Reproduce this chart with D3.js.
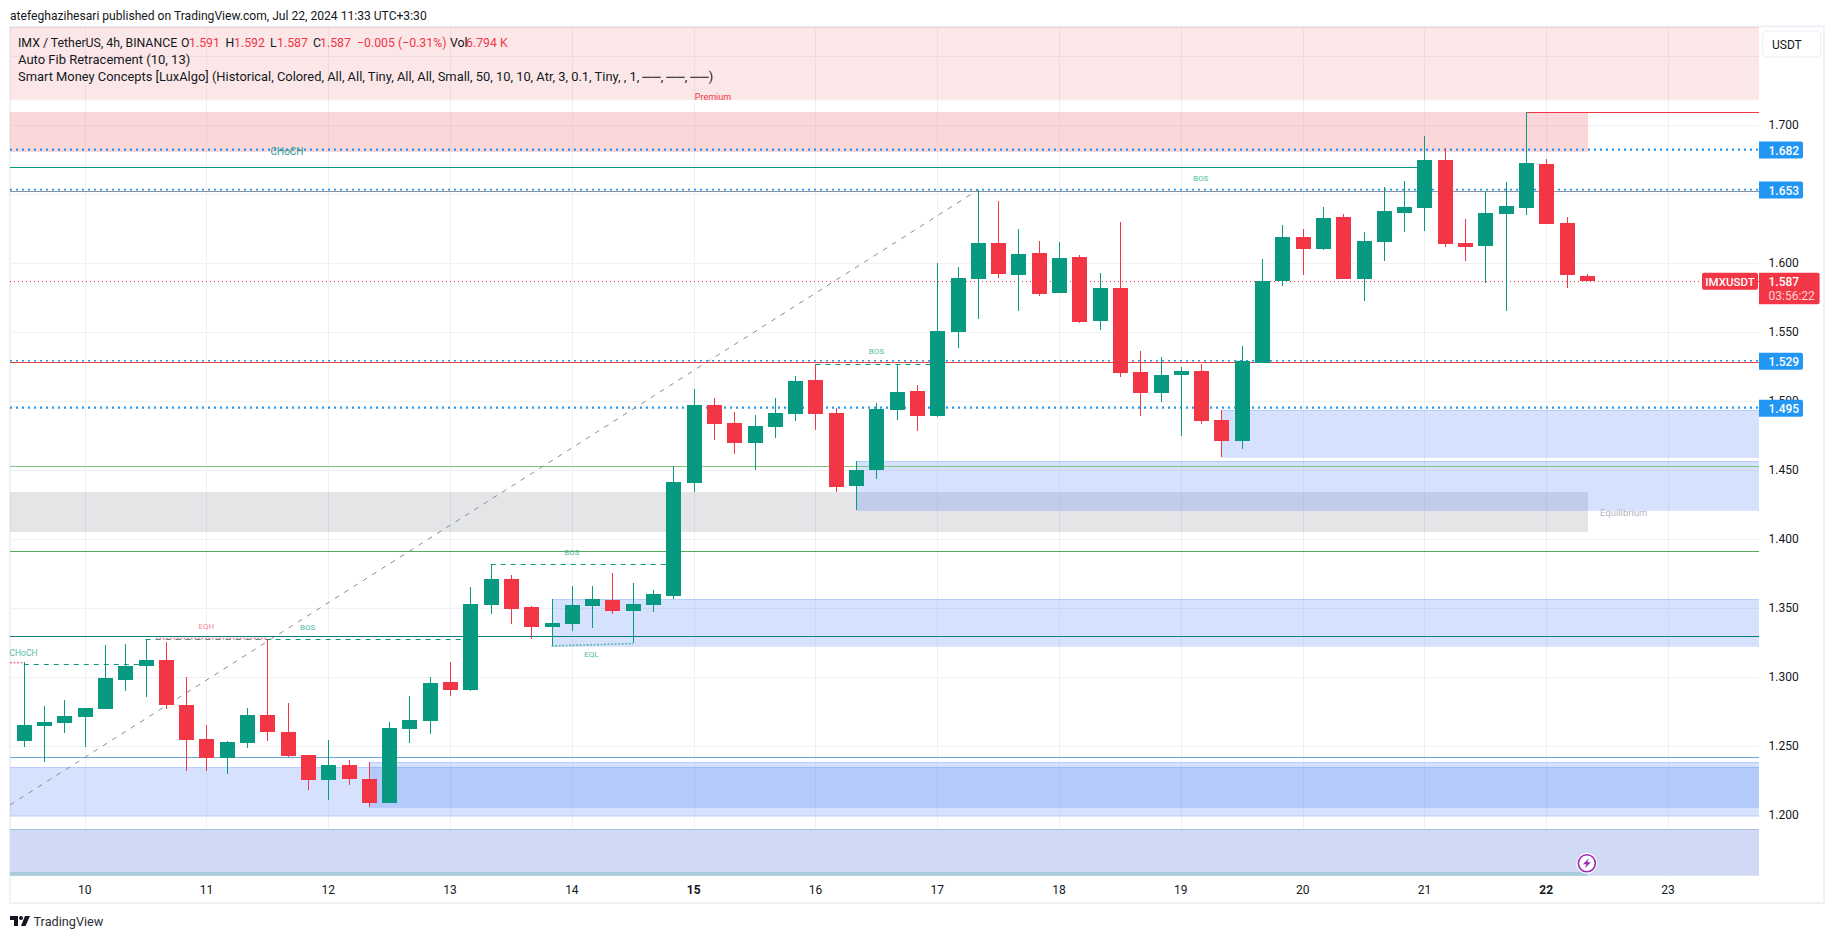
<!DOCTYPE html>
<html><head><meta charset="utf-8">
<script src="https://cdnjs.cloudflare.com/ajax/libs/d3/7.8.5/d3.min.js"></script>
<style>html,body{margin:0;padding:0;background:#fff}svg{display:block}text{font-family:Roboto,"Liberation Sans",sans-serif}</style>
</head><body><svg id="c" width="1835" height="939"></svg>
<script>
// Candle data: 4h bars, index 0 = first bar of day 10
const firstIndex = -3;
const opens = [
1.2538,1.2647,1.2669,1.2712,1.2770,1.2981,1.3082,1.3125,1.2799,1.2553,
1.2415,1.2524,1.2727,1.2604,1.2437,1.2256,1.2365,1.2263,1.2089,1.2625,
1.2683,1.2966,1.2908,1.3524,1.3712,1.3510,1.3365,1.3386,1.3517,1.3560,
1.3480,1.3524,1.3589,1.4408,1.4973,1.4843,1.4698,1.4814,1.4908,1.5154,
1.4915,1.4386,1.4502,1.4937,1.5074,1.4893,1.5502,1.5886,1.6147,1.5915,
1.6075,1.5785,1.6046,1.5582,1.5821,1.5212,1.5060,1.5190,1.5219,1.4864,
1.4712,1.5277,1.5872,1.6190,1.6104,1.6335,1.5886,1.6154,1.6364,1.6400,
1.6748,1.6147,1.6125,1.6357,1.6400,1.6719,1.6292,1.591];
const closes = [
1.2654,1.2676,1.2720,1.2778,1.2995,1.3082,1.3125,1.2799,1.2546,1.2415,
1.2531,1.2727,1.2604,1.2430,1.2256,1.2365,1.2263,1.2089,1.2633,1.2691,
1.2959,1.2908,1.3531,1.3712,1.3495,1.3365,1.3393,1.3524,1.3567,1.3480,
1.3531,1.3603,1.4415,1.4973,1.4835,1.4698,1.4821,1.4915,1.5147,1.4908,
1.4379,1.4502,1.4944,1.5067,1.4893,1.5509,1.5893,1.6147,1.5922,1.6067,
1.5777,1.6038,1.5575,1.5821,1.5205,1.5060,1.5190,1.5219,1.4857,1.4712,
1.5292,1.5872,1.6190,1.6104,1.6328,1.5886,1.6162,1.6379,1.6408,1.6748,
1.6140,1.6118,1.6364,1.6415,1.6727,1.6284,1.5915,1.587];
const highs = [
1.3113,1.2792,1.2836,1.2778,1.3234,1.3241,1.3278,1.3256,1.3002,1.2654,
1.2539,1.2778,1.3278,1.2814,1.2437,1.2546,1.2401,1.2386,1.2676,1.2865,
1.3002,1.3111,1.3654,1.3819,1.3741,1.3517,1.3565,1.3662,1.3662,1.3756,
1.3683,1.3632,1.4531,1.5089,1.5024,1.4922,1.4900,1.5024,1.5183,1.5270,
1.4951,1.4567,1.4988,1.5263,1.5118,1.6002,1.5973,1.6531,1.6451,1.6248,
1.6161,1.6154,1.6060,1.5930,1.6299,1.5364,1.5321,1.5248,1.5270,1.4937,
1.5400,1.6031,1.6277,1.6248,1.6408,1.6357,1.6227,1.6553,1.6596,1.6922,
1.6835,1.6321,1.6524,1.6589,1.7094,1.6755,1.6335,1.592];
const lows = [
1.2495,1.2386,1.2596,1.2495,1.2770,1.2901,1.2857,1.2770,1.2321,1.2321,
1.2299,1.2488,1.2538,1.2423,1.2183,1.2111,1.2220,1.2060,1.2089,1.2524,
1.2589,1.2865,1.2901,1.3459,1.3386,1.3278,1.3227,1.3336,1.3357,1.3459,
1.3246,1.3473,1.3567,1.4343,1.4719,1.4618,1.4502,1.4734,1.4857,1.4792,
1.4343,1.4212,1.4437,1.4864,1.4785,1.4886,1.5386,1.5596,1.5893,1.5654,
1.5763,1.5785,1.5567,1.5517,1.5176,1.4893,1.4995,1.4748,1.4835,1.4596,
1.4654,1.5277,1.5835,1.5915,1.6096,1.5886,1.5727,1.6017,1.6226,1.6234,
1.6118,1.6016,1.5857,1.5654,1.6350,1.6284,1.5821,1.587];

const dayLabels = [10,11,12,13,14,15,16,17,18,19,20,21,22,23];
const dayIndex = [0,6,12,18,24,30,36,42,48,54,60,66,72,78];
const boldDays = [15,22];
const priceTicks = [1.2,1.25,1.3,1.35,1.4,1.45,1.5,1.55,1.6,1.65,1.7];
const minorGrid = [1.75];

// zones: [index from, index to, top price, bottom price]
const idxL = -3.68, idxR = 82.48, idxZ = 74.05;
const zonePremium = [[idxL,idxR,1.7712,1.7193]];
const zoneSupply = [[idxL,idxZ,1.7096,1.6809]];
const zoneEquil = [[idxL,idxZ,1.4345,1.4055]];
const zonesBlue = [[idxL,idxR,1.2348,1.1997],[14,idxR,1.2386,1.2062],[23,idxR,1.3565,1.3229],[38,idxR,1.4567,1.4212],[56,idxR,1.4937,1.4599]];
const zoneLow = [[idxL,idxR,1.1899,1.1562]];
const zoneStrip = [[idxL,74,1.1587,1.1562]];

// level lines: [from, to, price, colour]
const solidLines = [
 [idxL,idxR,1.6525,"#8a90a8"],[idxL,idxR,1.5285,"#e8413d"],[idxL,idxR,1.4529,"#7cc77c"],
 [idxL,idxR,1.3913,"#5aa75e"],[idxL,idxR,1.3297,"#0a7d80"],[idxL,idxR,1.2420,"#6aa9de"],
 [idxL,66,1.6696,"#089981"],[71,idxR,1.7094,"#f23645"]];
const dottedBlue = [[1.682,2.2],[1.653,1.6],[1.529,1.6],[1.495,2.4]];
const dashedTeal = [[-3,3,1.3094],[3,19,1.3275],[20,28.7,1.3819],[36,42,1.5268]];
const dashedStems = [[3,1.3275,1.3125],[20,1.3819,1.3712],[36,1.5268,1.5154]];
const dottedRed = [[-3.68,-3,1.3106,1.3106],[3.5,9,1.3280,1.3280]];
const dottedEql = [[23,27,1.3227,1.3244]];
const fibLine = [[-3.68,1.2075],[44,1.6531]];
const tags = [[1.682,"1.682"],[1.653,"1.653"],[1.529,"1.529"],[1.495,"1.495"]];
const lastPrice = 1.587;

const smallLabels = [
 ["CHoCH",23.5,652.7,"#52bba5",8.5],["BOS",307.6,627.3,"#52bba5",8],["EQH",206.4,626.3,"#f58a93",8],
 ["BOS",571.8,552.3,"#52bba5",8],["EQL",591.4,654.3,"#52bba5",8],["BOS",876.4,351.3,"#52bba5",8],
 ["CHoCH",287,151.7,"#1f9e88",10],["BOS",1200.7,178.3,"#52bba5",8]];

const UP="#089981", DOWN="#f23645", TXT="#131722", GRID="#f0f1f4";
const svg=d3.select("#c");
const plotL=10, plotR=1759, plotT=27, plotB=875.7;
const x=d3.scaleLinear().domain([idxL,idxR]).range([plotL,plotR]);
const y=d3.scaleLinear().domain([1.1562,1.7712]).range([plotB,plotT]);
const px=v=>Math.round(v)+.5;

// Frame
svg.append("rect").attr("x",10).attr("y",26.5).attr("width",1814).attr("height",876.5).attr("fill","#fff").attr("stroke","#f0f1f5").attr("stroke-width",2);
svg.append("defs").append("clipPath").attr("id","plot").append("rect").attr("x",plotL).attr("y",plotT).attr("width",plotR-plotL).attr("height",plotB-plotT);
const g=svg.append("g").attr("clip-path","url(#plot)");

// Grid
g.selectAll(".gh").data(priceTicks.concat(minorGrid)).join("line").attr("x1",plotL).attr("x2",plotR)
 .attr("y1",d=>px(y(d))).attr("y2",d=>px(y(d))).attr("stroke",GRID);
g.selectAll(".gv").data(dayIndex).join("line").attr("y1",plotT).attr("y2",plotB)
 .attr("x1",d=>px(x(d))).attr("x2",d=>px(x(d))).attr("stroke",GRID);

function zones(data,fill,stroke){
 const s=g.append("g");
 s.selectAll("rect").data(data).join("rect").attr("x",d=>x(d[0])).attr("width",d=>x(d[1])-x(d[0]))
  .attr("y",d=>y(d[2])).attr("height",d=>y(d[3])-y(d[2])).attr("fill",fill).attr("shape-rendering","crispEdges");
 if(stroke){
  s.selectAll(".t").data(data).join("line").attr("x1",d=>x(d[0])).attr("x2",d=>x(d[1])).attr("y1",d=>px(y(d[2]))).attr("y2",d=>px(y(d[2]))).attr("stroke",stroke);
  s.selectAll(".b").data(data).join("line").attr("x1",d=>x(d[0])).attr("x2",d=>x(d[1])).attr("y1",d=>px(y(d[3]))).attr("y2",d=>px(y(d[3]))).attr("stroke",stroke);
 }
}
zones(zonePremium,"rgba(235,60,70,0.125)","rgba(242,54,69,0.1)");
zones(zoneSupply,"rgba(242,54,69,0.2)",null);
zones(zoneEquil,"rgba(120,123,134,0.2)",null);
zones(zonesBlue,"rgba(33,100,243,0.185)","rgba(33,100,243,0.16)");
zones(zoneLow,"#d0daf4",null);
g.append("line").attr("x1",plotL).attr("x2",plotR).attr("y1",px(y(zoneLow[0][2]))).attr("y2",px(y(zoneLow[0][2]))).attr("stroke","#a9bcea");
zones(zoneStrip,"#a9ccdc",null);

// Levels
g.selectAll(".lv").data(solidLines).join("line").attr("x1",d=>x(d[0])).attr("x2",d=>x(d[1]))
 .attr("y1",d=>px(y(d[2]))).attr("y2",d=>px(y(d[2]))).attr("stroke",d=>d[3]).attr("stroke-width",1);
g.selectAll(".db").data(dottedBlue).join("line").attr("x1",plotL).attr("x2",plotR)
 .attr("y1",d=>y(d[0])-.5).attr("y2",d=>y(d[0])-.5).attr("stroke","#2196f3").attr("stroke-width",d=>d[1]).attr("stroke-dasharray","2 4");
g.append("line").attr("x1",plotL).attr("x2",x(idxR)).attr("y1",px(y(lastPrice))).attr("y2",px(y(lastPrice))).attr("stroke","#f23645").attr("stroke-dasharray","1 3");
g.append("line").attr("x1",x(fibLine[0][0])).attr("y1",y(fibLine[0][1])).attr("x2",x(fibLine[1][0])).attr("y2",y(fibLine[1][1])).attr("stroke","#8a8d96").attr("stroke-dasharray","5 6");
g.selectAll(".dt").data(dashedTeal).join("line").attr("x1",d=>x(d[0])).attr("x2",d=>x(d[1])).attr("y1",d=>px(y(d[2]))).attr("y2",d=>px(y(d[2]))).attr("stroke",UP).attr("stroke-width",1).attr("stroke-dasharray","5 5");
g.selectAll(".ds").data(dashedStems).join("line").attr("x1",d=>px(x(d[0]))).attr("x2",d=>px(x(d[0]))).attr("y1",d=>y(d[1])).attr("y2",d=>y(d[2])).attr("stroke",UP);
g.selectAll(".dr").data(dottedRed).join("line").attr("x1",d=>x(d[0])).attr("x2",d=>x(d[1])).attr("y1",d=>y(d[2])).attr("y2",d=>y(d[3])).attr("stroke","#f58a93").attr("stroke-width",1.6).attr("stroke-dasharray","2 1.5");
g.selectAll(".de").data(dottedEql).join("line").attr("x1",d=>x(d[0])).attr("x2",d=>x(d[1])).attr("y1",d=>y(d[2])).attr("y2",d=>y(d[3])).attr("stroke","#5bb7b5").attr("stroke-width",1.6).attr("stroke-dasharray","2 1.5");

// Candles
const bars=closes.map((c,i)=>({i:i+firstIndex,o:opens[i],h:highs[i],l:lows[i],c}));
const cg=g.append("g").attr("shape-rendering","crispEdges");
cg.selectAll(".w").data(bars).join("line").attr("x1",d=>px(x(d.i))).attr("x2",d=>px(x(d.i)))
 .attr("y1",d=>y(d.h)).attr("y2",d=>y(d.l)).attr("stroke",d=>d.c>=d.o?UP:DOWN).attr("stroke-width",1);
cg.selectAll(".b").data(bars).join("rect").attr("x",d=>Math.round(x(d.i))-7).attr("width",15)
 .attr("y",d=>y(Math.max(d.o,d.c))).attr("height",d=>Math.max(1,Math.abs(y(d.o)-y(d.c)))).attr("fill",d=>d.c>=d.o?UP:DOWN);

// Small labels
svg.selectAll(".sl").data(smallLabels).join("text").attr("x",d=>d[1]).attr("y",d=>d[2]).attr("text-anchor","middle").attr("dominant-baseline","central")
 .attr("font-size",d=>d[4]).attr("fill",d=>d[3]).text(d=>d[0]);
svg.append("text").attr("x",713).attr("y",97).attr("text-anchor","middle").attr("dominant-baseline","central").attr("font-size",9).attr("fill","#f23645").text("Premium");
svg.append("text").attr("x",1600).attr("y",512).attr("dominant-baseline","central").attr("font-size",9.5).attr("fill","#b2b5be").text("Equilibrium");

// Y axis (tick under the 1.495 tag stays, as in the picture)
svg.selectAll(".yt").data(priceTicks).join("text").attr("x",1768.5).attr("y",d=>y(d)).attr("dominant-baseline","central").attr("font-size",12).attr("fill",TXT).text(d=>d3.format(".3f")(d));
// X axis
svg.selectAll(".xt").data(dayLabels).join("text").attr("x",(d,i)=>x(dayIndex[i])).attr("y",889.5).attr("text-anchor","middle").attr("dominant-baseline","central").attr("font-size",12)
 .attr("font-weight",d=>boldDays.includes(d)?700:400).attr("fill",TXT).text(d=>d);

// Price tags
svg.selectAll(".tg").data(tags).join("path").attr("d",d=>{const t=y(d[0])-8.5;return `M${plotR} ${t}H1801a2 2 0 0 1 2 2V${t+15}a2 2 0 0 1 -2 2H${plotR}Z`;}).attr("fill","#2196f3");
svg.selectAll(".tt").data(tags).join("text").attr("x",1768.5).attr("y",d=>y(d[0])+.5).attr("dominant-baseline","central").attr("font-size",12).attr("font-weight",500).attr("fill","#fff").text(d=>d[1]);
const ly=y(lastPrice);
svg.append("path").attr("d",`M${plotR} ${ly-8.5}H1817.6a2 2 0 0 1 2 2V${ly+21}a2 2 0 0 1 -2 2H${plotR}Z`).attr("fill","#f23645");
svg.append("text").attr("x",1768.5).attr("y",ly+.5).attr("dominant-baseline","central").attr("font-size",12).attr("font-weight",500).attr("fill","#fff").text("1.587");
svg.append("text").attr("x",1768.5).attr("y",ly+15).attr("dominant-baseline","central").attr("font-size",12).attr("fill","#fbd5d8").text("03:56:22");
svg.append("rect").attr("x",1702).attr("y",ly-8.5).attr("width",56).attr("height",17).attr("rx",2).attr("fill","#f23645");
svg.append("text").attr("x",1730).attr("y",ly+.5).attr("text-anchor","middle").attr("dominant-baseline","central").attr("font-size",11.5).attr("font-weight",500).attr("fill","#fff").text("IMXUSDT");

// USDT
svg.append("rect").attr("x",1762.5).attr("y",31).attr("width",58.5).attr("height",26).attr("rx",5).attr("fill","#fff").attr("stroke","#f0f3fa").attr("stroke-width",1.5);
svg.append("text").attr("x",1772).attr("y",44.5).attr("dominant-baseline","central").attr("font-size",12).attr("fill",TXT).text("USDT");

// Header & legend
svg.append("text").attr("x",10).attr("y",15.5).attr("dominant-baseline","central").attr("font-size",12.1).attr("fill",TXT).text("atefeghazihesari published on TradingView.com, Jul 22, 2024 11:33 UTC+3:30");
const leg=[["IMX / TetherUS, 4h, BINANCE",18,TXT],["O",181,TXT],["1.591",189,DOWN],["H",225.5,TXT],["1.592",234,DOWN],["L",270,TXT],["1.587",277,DOWN],["C",313,TXT],["1.587",320,DOWN],["−0.005 (−0.31%)",357,DOWN],["Vol",450,TXT],["6.794 K",466,DOWN]];
svg.selectAll(".lg").data(leg).join("text").attr("x",d=>d[1]).attr("y",42.5).attr("dominant-baseline","central").attr("font-size",12.3).attr("fill",d=>d[2]).text(d=>d[0]);
svg.append("text").attr("x",18).attr("y",59.5).attr("dominant-baseline","central").attr("font-size",13).attr("fill",TXT).text("Auto Fib Retracement (10, 13)");
svg.append("text").attr("x",18).attr("y",76.5).attr("dominant-baseline","central").attr("font-size",12.9).attr("fill",TXT).text("Smart Money Concepts [LuxAlgo] (Historical, Colored, All, All, Tiny, All, All, Small, 50, 10, 10, Atr, 3, 0.1, Tiny, , 1, ──, ──, ──)");

// Bolt icon
const bx=x(74), by=863.3;
svg.append("circle").attr("cx",bx).attr("cy",by).attr("r",10.5).attr("fill","#fff");
svg.append("circle").attr("cx",bx).attr("cy",by).attr("r",8.5).attr("fill","#fff").attr("stroke","#9c27b0").attr("stroke-width",1.6);
svg.append("path").attr("transform",`translate(${bx},${by})`).attr("d","M2 -5 L-4 1 H-0.5 L-2 5 L4 -1 H0.5 Z").attr("fill","#9c27b0");

// TradingView footer
const logo=svg.append("g").attr("transform","translate(10,916)").attr("fill","#131722");
logo.append("path").attr("d","M0 0H8V10H4V4H0Z");
logo.append("circle").attr("cx",11).attr("cy",2).attr("r",2);
logo.append("path").attr("d","M15 0H20L15.5 10H11Z");
svg.append("text").attr("x",33.5).attr("y",921.5).attr("dominant-baseline","central").attr("font-size",12.7).attr("fill","#2a2e39").text("TradingView");
</script></body></html>
